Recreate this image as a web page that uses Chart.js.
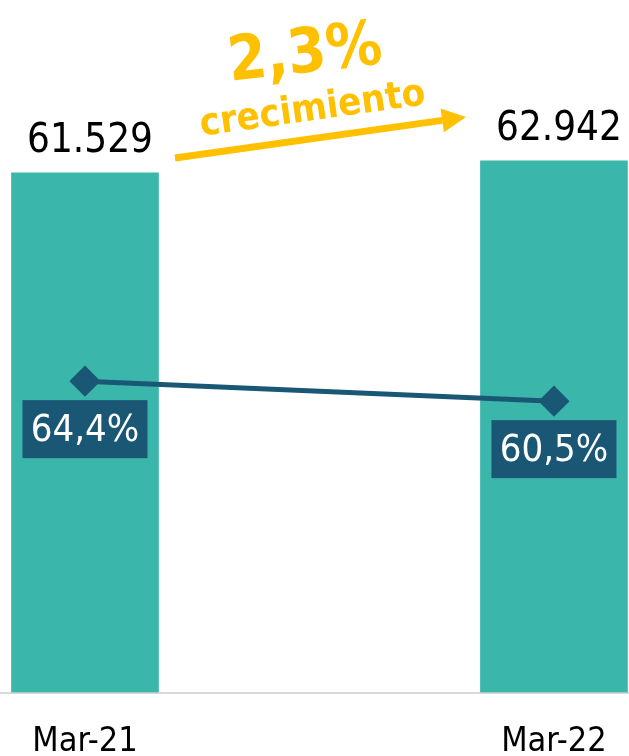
<!DOCTYPE html>
<html>
<head>
<meta charset="utf-8">
<script src="https://cdn.jsdelivr.net/npm/chart.js@4"></script>
<style>
  html, body { margin: 0; padding: 0; background: #fff; }
  #wrap { width: 629px; height: 756px; position: relative; }
</style>
</head>
<body>
<div id="wrap"><canvas id="growth-chart"></canvas></div>
<script>
const categories = ['Mar-21', 'Mar-22']
const totals = [61529, 62942]
const shares = [64.4, 60.5]
const growthLabel = '2,3%'
const growthText = 'crecimiento'

const teal = 'rgb(59, 182, 170)'
const navy = 'rgb(26, 87, 117)'
const yellow = '#ffc000'
const fontName = '"DejaVu Sans Condensed", "DejaVu Sans", sans-serif'

function thousands(v) {
      return String(v).replace(/\B(?=(\d{3})+(?!\d))/g, '.')
}

function percent(v) {
      return v.toFixed(1).replace('.', ',') + '%'
}

const labelsPlugin = {
      id: 'labelsPlugin',
      afterDatasetsDraw(chart) {
            const ctx = chart.ctx
            ctx.save()
            // totals above the bars
            chart.getDatasetMeta(0).data.forEach((bar, i) => {
                  ctx.font = '40px ' + fontName
                  ctx.fillStyle = '#000'
                  ctx.textAlign = 'center'
                  ctx.textBaseline = 'alphabetic'
                  ctx.fillText(thousands(totals[i]), bar.x + 5, bar.y - 21)
            })
            // share boxes under the line points
            chart.getDatasetMeta(1).data.forEach((pt, i) => {
                  const w = 125, h = 58
                  const cx = pt.x, cy = pt.y + 48
                  ctx.fillStyle = navy
                  ctx.fillRect(cx - w / 2, cy - h / 2, w, h)
                  ctx.font = '38px ' + fontName
                  ctx.fillStyle = '#fff'
                  ctx.textAlign = 'center'
                  ctx.textBaseline = 'middle'
                  ctx.fillText(percent(shares[i]), cx, cy + 2)
            })
            ctx.restore()
      },
      afterDraw(chart) {
            const ctx = chart.ctx
            ctx.save()
            ctx.fillStyle = yellow
            ctx.strokeStyle = yellow
            ctx.textAlign = 'center'
            ctx.textBaseline = 'alphabetic'

            ctx.save()
            ctx.translate(307, 72)
            ctx.rotate(-6.5 * Math.PI / 180)
            ctx.font = 'bold 62px ' + fontName
            ctx.fillText(growthLabel, 0, 0)
            ctx.restore()

            ctx.save()
            ctx.translate(314, 120)
            ctx.rotate(-8 * Math.PI / 180)
            ctx.font = 'bold 38px ' + fontName
            ctx.fillText(growthText, 0, 0)
            ctx.restore()

            // arrow
            const x0 = 175, y0 = 158, x1 = 466, y1 = 117
            const ang = Math.atan2(y1 - y0, x1 - x0)
            const headLen = 24, headHalf = 12
            const bx = x1 - headLen * Math.cos(ang), by = y1 - headLen * Math.sin(ang)
            ctx.lineWidth = 7
            ctx.beginPath()
            ctx.moveTo(x0, y0)
            ctx.lineTo(bx, by)
            ctx.stroke()
            ctx.beginPath()
            ctx.moveTo(x1, y1)
            ctx.lineTo(bx + headHalf * Math.sin(ang), by - headHalf * Math.cos(ang))
            ctx.lineTo(bx - headHalf * Math.sin(ang), by + headHalf * Math.cos(ang))
            ctx.closePath()
            ctx.fill()
            ctx.restore()
      }
}

const ctx = document.getElementById('growth-chart')

new Chart(ctx, {
      data: {
            datasets: [{
                  type: 'bar',
                  data: totals.map((v, i) => ({ x: i, y: v })),
                  backgroundColor: teal,
                  barThickness: 147,
                  yAxisID: 'y',
                  order: 1
            }, {
                  type: 'line',
                  data: shares.map((v, i) => ({ x: i, y: v })),
                  borderColor: navy,
                  borderWidth: 5,
                  pointStyle: 'rectRot',
                  pointRadius: 12,
                  pointBackgroundColor: navy,
                  pointBorderColor: navy,
                  yAxisID: 'y2',
                  clip: false,
                  order: 0
            }]
      },
      options: {
            responsive: true,
            maintainAspectRatio: false,
            animation: false,
            layout: { padding: 0, autoPadding: false },
            plugins: {
                  legend: { display: false },
                  tooltip: { enabled: false }
            },
            scales: {
                  x: {
                        type: 'linear',
                        offset: false,
                        min: -0.1812,
                        max: 1.16,
                        afterBuildTicks: s => { s.ticks = categories.map((c, i) => ({ value: i })) },
                        afterFit: s => {
                              s.height = 63.5
                              s.paddingLeft = 0
                              s.paddingRight = 0
                        },
                        grid: { display: false, drawTicks: false, offset: false },
                        border: { display: true, color: '#d9d9d9', width: 2 },
                        ticks: {
                              callback: v => categories[v],
                              color: '#000',
                              padding: 29,
                              maxRotation: 0,
                              font: { family: fontName, size: 34 }
                        }
                  },
                  y: { display: false, min: 0, max: 82000 },
                  y2: { display: false, min: 3.7, max: 138.7 }
            }
      },
      plugins: [labelsPlugin]
})
</script>
</body>
</html>
